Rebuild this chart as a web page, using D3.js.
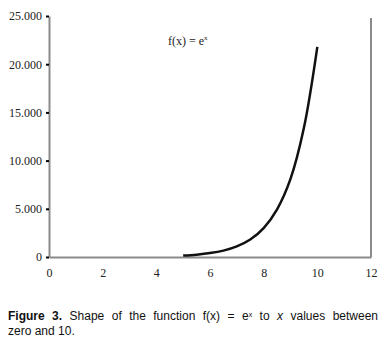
<!DOCTYPE html>
<html>
<head>
<meta charset="utf-8">
<script src="https://cdn.jsdelivr.net/npm/d3@7"></script>
<style>
  body { margin: 0; background: #fff; }
  svg { display: block; }
</style>
</head>
<body>
<svg id="chart" width="384" height="342"></svg>
<script>
// values
const xValues = [5, 5.5, 6, 6.5, 7, 7.5, 8, 8.5, 9, 9.5, 10];
const yValues = [150, 245, 405, 665, 1100, 1810, 3000, 4950, 8100, 13400, 21800];
const xTicks = [0, 2, 4, 6, 8, 10, 12];
const yTicks = [0, 5000, 10000, 15000, 20000, 25000];

const data = xValues.map((x, i) => ({ x: x, y: yValues[i] }));

const svg = d3.select("#chart");
const margin = { top: 16, left: 49, right: 13, bottom: 85 };
const width = 384 - margin.left - margin.right;
const height = 342 - margin.top - margin.bottom;

const g = svg.append("g")
    .attr("transform", `translate(${margin.left}, ${margin.top})`);

const x = d3.scaleLinear().domain([0, 12]).range([0, width]);
const y = d3.scaleLinear().domain([0, 25000]).range([height, 0]);

const serif = "'Liberation Serif', 'Times New Roman', serif";

// right border
g.append("line")
    .attr("x1", width).attr("x2", width)
    .attr("y1", y(24800)).attr("y2", height)
    .attr("stroke", "#8a8a8a").attr("stroke-width", 2);

// x axis
const xAxis = g.append("g")
    .attr("transform", `translate(0, ${height})`)
    .call(d3.axisBottom(x).tickValues(xTicks).tickSize(0).tickPadding(11));
xAxis.select(".domain").attr("stroke", "#8a8a8a").attr("stroke-width", 2);
xAxis.selectAll("text")
    .attr("font-family", serif).attr("font-size", 12).attr("fill", "#222");

// y axis
const yAxis = g.append("g")
    .call(d3.axisLeft(y).tickValues(yTicks).tickSize(3).tickPadding(4)
        .tickSizeOuter(0)
        .tickFormat(d => d === 0 ? "0" : d3.format(",")(d).replace(",", ".")));
yAxis.select(".domain").attr("stroke", "#8a8a8a").attr("stroke-width", 2);
yAxis.selectAll(".tick line").attr("stroke", "#000").attr("stroke-width", 2);
yAxis.selectAll("text")
    .attr("font-family", serif).attr("font-size", 12).attr("fill", "#222");

// curve
const line = d3.line()
    .x(d => x(d.x))
    .y(d => y(d.y))
    .curve(d3.curveCatmullRom);

g.append("path")
    .datum(data)
    .attr("fill", "none")
    .attr("stroke", "#111")
    .attr("stroke-width", 2.5)
    .attr("d", line);

// label
const lbl = svg.append("text")
    .attr("x", 168).attr("y", 45)
    .attr("font-family", serif).attr("font-size", 12).attr("fill", "#222");
lbl.append("tspan").text("f(x) = e");
lbl.append("tspan").attr("dy", -5).attr("font-size", 7).text("x");

// caption, first line justified through word spacing
const cap = svg.append("text")
    .attr("font-family", "'Liberation Sans', Arial, sans-serif")
    .attr("font-size", 12).attr("fill", "#111");
const l1 = cap.append("tspan").attr("x", 8).attr("y", 320);
l1.append("tspan").attr("font-weight", "bold").text("Figure 3.");
l1.append("tspan").text(" Shape of the function f(x) = e");
l1.append("tspan").attr("dy", -3).attr("font-size", 7).text("x");
l1.append("tspan").attr("dy", 3).text(" to ");
l1.append("tspan").attr("font-style", "italic").text("x");
l1.append("tspan").text(" values between");
cap.append("tspan").attr("x", 8).attr("y", 335).text("zero and 10.");

const w1 = l1.node().getComputedTextLength();
const spaces = l1.text().split(" ").length - 1;
l1.attr("word-spacing", Math.max(0, (370 - w1) / spaces));
</script>
</body>
</html>
